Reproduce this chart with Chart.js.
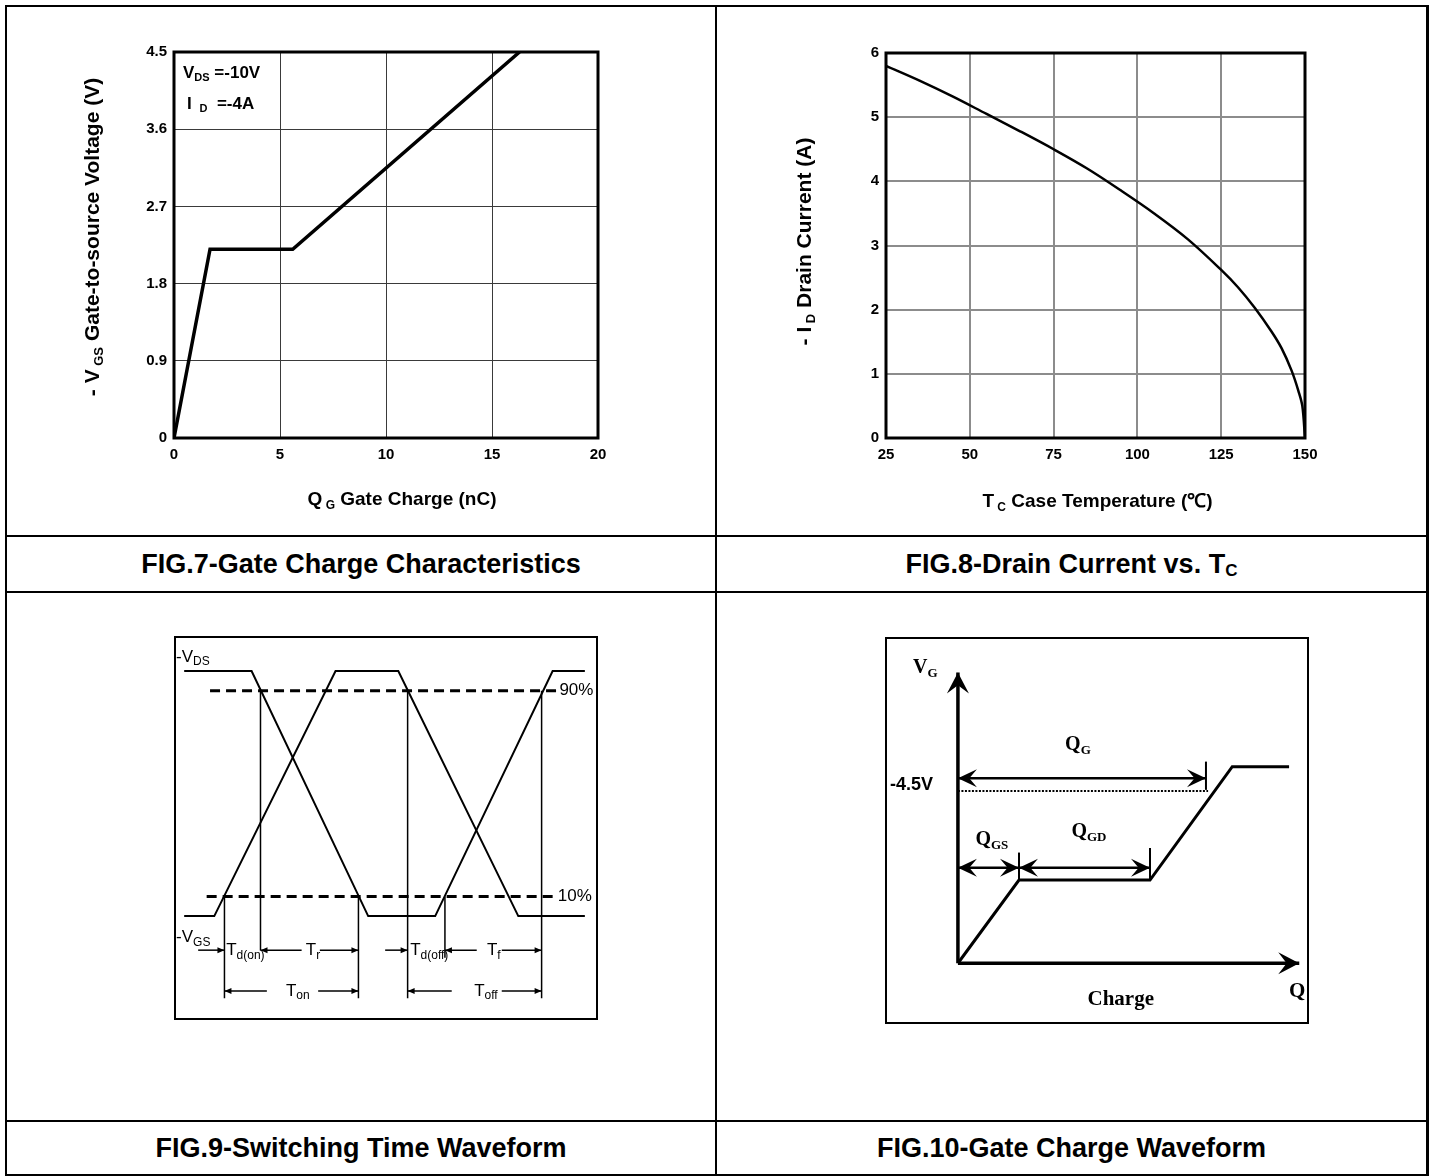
<!DOCTYPE html>
<html>
<head>
<meta charset="utf-8">
<script src="https://cdn.jsdelivr.net/npm/chart.js@4.4.1/dist/chart.umd.min.js"></script>
<style>
  body { margin: 0; width: 1434px; height: 1176px; background: #fff; position: relative; overflow: hidden;
         font-family: "Liberation Sans", Arial, sans-serif; }
  .ln { position: absolute; background: #000; }
  .cap { position: absolute; display: flex; align-items: center; justify-content: center;
         font-weight: bold; font-size: 27px; color: #000; }
  .cap span.sb { font-size: 17px; position: relative; top: 7px; }
  canvas { position: absolute; }
</style>
</head>
<body>
<div class="ln" style="left:5px;top:5px;width:1424px;height:2px"></div>
<div class="ln" style="left:5px;top:5px;width:2px;height:1171px"></div>
<div class="ln" style="left:1426px;top:5px;width:3px;height:1171px"></div>
<div class="ln" style="left:5px;top:1174px;width:1424px;height:2px"></div>
<div class="ln" style="left:715px;top:5px;width:2px;height:1171px"></div>
<div class="ln" style="left:5px;top:535px;width:1424px;height:2px"></div>
<div class="ln" style="left:5px;top:591px;width:1424px;height:2px"></div>
<div class="ln" style="left:5px;top:1120px;width:1424px;height:2px"></div>

<div class="cap" style="left:7px;top:537px;width:708px;height:54px">FIG.7-Gate Charge Characteristics</div>
<div class="cap" style="left:717px;top:537px;width:709px;height:54px">FIG.8-Drain Current vs. T<span class="sb">C</span></div>
<div class="cap" style="left:7px;top:1122px;width:708px;height:52px">FIG.9-Switching Time Waveform</div>
<div class="cap" style="left:717px;top:1122px;width:709px;height:52px">FIG.10-Gate Charge Waveform</div>

<canvas id="c7" width="580" height="510" style="left:60px;top:20px"></canvas>
<canvas id="c8" width="580" height="510" style="left:770px;top:20px"></canvas>
<canvas id="c9" width="424" height="384" style="left:174px;top:636px"></canvas>
<canvas id="c10" width="424" height="387" style="left:885px;top:637px"></canvas>

<script>
// FIG.7 gate charge
const qgCharge = [0, 1.7, 5.6, 16.3];
const qgVoltage = [0, 2.2, 2.2, 4.5];
const qgTicksX = [0, 5, 10, 15, 20];
const qgTicksY = [0, 0.9, 1.8, 2.7, 3.6, 4.5];

// FIG.8 drain current vs case temperature
const tcTemp = [25, 35, 45, 55, 65, 75, 85, 95, 105, 115, 125, 130, 135, 140, 143, 146, 148, 149.2, 150];
const tcCurrent = [5.8, 5.57, 5.32, 5.05, 4.78, 4.5, 4.2, 3.86, 3.5, 3.1, 2.62, 2.35, 2.03, 1.66, 1.4, 1.05, 0.74, 0.5, 0];
const tcTicksX = [25, 50, 75, 100, 125, 150];
const tcTicksY = [0, 1, 2, 3, 4, 5, 6];

// FIG.9 switching waveform (time in % of frame, level in % of swing)
const swVdsT = [2.4, 18.3, 45.8, 61.6, 89.3, 96.9];
const swVdsLevel = [100, 100, 0, 0, 100, 100];
const swVgsT = [2.4, 9.5, 38.1, 52.9, 81.2, 96.9];
const swVgsLevel = [0, 0, 100, 100, 0, 0];
const swRefLevel = [92, 8];
const swRefStart = [8.5, 7.7];
const swRefEnd = [90.5, 90.3];
const swMarkT = [11.9, 20.4, 43.5, 55.1, 63.9, 86.7];
const swMarkTop = [8, 92, 8, 92, 8, 92];
const swMarkBottom = [-33.5, -14, -33.5, -33.5, -17, -33.5];
const swDimFrom = [5.7, 30.1, 34.4, 49.8, 71.4, 77.3, 21.9, 34, 65.5, 77.3];
const swDimTo = [11.9, 20.4, 43.5, 55.1, 63.9, 86.7, 11.9, 43.5, 55.1, 86.7];
const swDimLevel = [-13.9, -13.9, -13.9, -13.9, -13.9, -13.9, -30.6, -30.6, -30.6, -30.6];
const swLabelText = [[['-V'], ['DS', 1]], [['-V'], ['GS', 1]], [['90%']], [['10%']],
  [['T'], ['d(on)', 1]], [['T'], ['r', 1]], [['T'], ['d(off)', 1]], [['T'], ['f', 1]],
  [['T'], ['on', 1]], [['T'], ['off', 1]]];
const swLabelT = [0.5, 0.5, 90.9, 90.5, 12.3, 31.1, 55.7, 73.8, 26.4, 70.8];
const swLabelLevel = [105.7, -8.6, 92, 8, -13.9, -13.9, -13.9, -13.9, -30.6, -30.6];

// FIG.10 gate charge waveform
const gcQ = [0, 14.4, 45.3, 64.7, 78.1];
const gcV = [0, 21.5, 21.5, 50.8, 50.8];
const gcAxisTipQ = 80.5;
const gcAxisTipV = 75.1;
const gcRefLevel = 44.5;
const gcRefEnd = 59;
const gcDimFrom = [0, 0, 14.4];
const gcDimTo = [58.5, 14.4, 45.3];
const gcDimLevel = [47.8, 24.7, 24.7];
const gcTickQ = [58.5, 14.4, 45.3];
const gcTickLow = [44.8, 21.5, 21.5];
const gcTickHigh = [52.1, 28.6, 29.8];
const gcLabelText = [[['V'], ['G', 1]], [['-4.5V']], [['Q'], ['G', 1]], [['Q'], ['GS', 1]],
  [['Q'], ['GD', 1]], [['Charge']], [['Q']]];
const gcLabelQ = [-10.6, -16, 28.3, 8.0, 30.9, 38.4, 80];
const gcLabelV = [76.3, 46.1, 56.4, 32, 34, -9.5, -7.3];

const FONT = '"Liberation Sans", Arial, sans-serif';
const SERIF = '"Liberation Serif", "Times New Roman", serif';

// draws text made of normal / subscript parts
function richText(ctx, parts, x, y, o) {
  const size = o.size, subSize = o.sub || Math.round(size * 0.65);
  const weight = o.weight || 'normal', family = o.family || FONT;
  const fontOf = p => weight + ' ' + (p[1] ? subSize : size) + 'px ' + family;
  const widths = parts.map(p => { ctx.font = fontOf(p); return ctx.measureText(p[0]).width; });
  const total = widths.reduce((a, b) => a + b, 0);
  let cx = o.align === 'left' ? x : x - total / 2;
  ctx.save();
  ctx.fillStyle = '#000';
  ctx.textAlign = 'left';
  ctx.textBaseline = 'middle';
  parts.forEach((p, i) => {
    ctx.font = fontOf(p);
    ctx.fillText(p[0], cx, p[1] ? y + size * (o.drop || 0.3) : y);
    cx += widths[i];
  });
  ctx.restore();
}

function drawHead(ctx, from, to, h) {
  const ang = Math.atan2(to.y - from.y, to.x - from.x);
  ctx.save();
  ctx.translate(to.x, to.y);
  ctx.rotate(ang);
  ctx.beginPath();
  ctx.moveTo(0, 0);
  ctx.lineTo(-h.len, -h.w / 2);
  ctx.lineTo(-h.len * (h.notch || 1), 0);
  ctx.lineTo(-h.len, h.w / 2);
  ctx.closePath();
  ctx.fillStyle = '#000';
  ctx.fill();
  ctx.restore();
}

const arrowPlugin = {
  id: 'arrows',
  afterDatasetsDraw(chart) {
    chart.data.datasets.forEach((ds, i) => {
      if (!ds.head) return;
      const pts = chart.getDatasetMeta(i).data, n = pts.length;
      if (ds.head.end) drawHead(chart.ctx, pts[n - 2], pts[n - 1], ds.head);
      if (ds.head.start) drawHead(chart.ctx, pts[1], pts[0], ds.head);
    });
  }
};

const framePlugin = {
  id: 'frame',
  afterDatasetsDraw(chart, args, opts) {
    const a = chart.chartArea, ctx = chart.ctx, w = opts.width || 2;
    ctx.save();
    ctx.strokeStyle = '#000';
    ctx.lineWidth = w;
    ctx.strokeRect(a.left + (opts.inset ? w / 2 : 0), a.top + (opts.inset ? w / 2 : 0),
      a.right - a.left - (opts.inset ? w : 0), a.bottom - a.top - (opts.inset ? w : 0));
    ctx.restore();
  }
};

// axis titles + notes relative to the plot area
const textPlugin = {
  id: 'texts',
  afterDraw(chart, args, opts) {
    const a = chart.chartArea, ctx = chart.ctx;
    const mx = (a.left + a.right) / 2, my = (a.top + a.bottom) / 2;
    if (opts.xTitle) richText(ctx, opts.xTitle, mx + opts.xdx, a.bottom + opts.xdy, { size: 19, sub: 12, weight: 'bold' });
    if (opts.yTitle) {
      ctx.save();
      ctx.translate(a.left + opts.ydx, my + opts.ydy);
      ctx.rotate(-Math.PI / 2);
      richText(ctx, opts.yTitle, 0, 0, { size: 21, sub: 13, weight: 'bold' });
      ctx.restore();
    }
    (opts.notes || []).forEach(n => richText(ctx, n.parts, a.left + n.dx, a.top + n.dy, { size: 17, sub: 11, weight: 'bold', align: 'left' }));
  }
};

// labels placed in data coordinates
const labelPlugin = {
  id: 'labels',
  afterDatasetsDraw(chart, args, opts) {
    const sx = chart.scales.x, sy = chart.scales.y;
    opts.items.forEach(it => richText(chart.ctx, it.parts, sx.getPixelForValue(it.x), sy.getPixelForValue(it.y), it.style));
  }
};

const seg = (xs, ys, extra) => Object.assign({
  data: xs.map((x, i) => ({ x: x, y: ys[i] })),
  borderColor: '#000', borderWidth: 2, pointRadius: 0, showLine: true, fill: false, tension: 0
}, extra);

function pinArea(chart, cv, area) {
  const pad = chart.config.options.layout.padding;
  const a = chart.chartArea;
  pad.left += area.left - cv.left - a.left;
  pad.top += area.top - cv.top - a.top;
  pad.right += a.right - (area.right - cv.left);
  pad.bottom += a.bottom - (area.bottom - cv.top);
  chart.update();
}

const tickFont = { family: FONT, size: 15, weight: 'bold' };

function xyScales(xMin, xMax, xTicks, yMin, yMax, yTicks, gridColor, gridWidth) {
  const common = (min, max, list) => ({
    type: 'linear', min: min, max: max,
    afterBuildTicks: s => { s.ticks = list.map(v => ({ value: v })); },
    grid: { color: gridColor, lineWidth: gridWidth, drawTicks: false },
    border: { display: false },
    ticks: { color: '#000', font: tickFont, callback: v => String(v) }
  });
  const x = common(xMin, xMax, xTicks);
  x.ticks.padding = 8;
  x.ticks.maxRotation = 0;
  const y = common(yMin, yMax, yTicks);
  y.ticks.padding = 7;
  return { x: x, y: y };
}

// ---------- FIG.7
const ch7 = new Chart(document.getElementById('c7'), {
  type: 'scatter',
  data: { datasets: [seg(qgCharge, qgVoltage, { borderWidth: 3.5 })] },
  options: {
    responsive: false, animation: false,
    layout: { padding: { left: 20, top: 32, right: 42, bottom: 40 } },
    scales: xyScales(0, 20, qgTicksX, 0, 4.5, qgTicksY, '#3a3a3a', 1),
    plugins: {
      legend: { display: false }, tooltip: { enabled: false },
      frame: { width: 3 },
      texts: {
        xTitle: [['Q'], [' G', 1], [' Gate Charge (nC)']], xdx: 16, xdy: 62,
        yTitle: [['- V'], [' GS', 1], [' Gate-to-source Voltage (V)']], ydx: -81, ydy: -8,
        notes: [
          { parts: [['V'], ['DS', 1], [' =-10V']], dx: 9, dy: 21 },
          { parts: [['I '], [' D', 1], ['  =-4A']], dx: 13, dy: 52 }
        ]
      }
    }
  },
  plugins: [framePlugin, textPlugin]
});
pinArea(ch7, { left: 60, top: 20 }, { left: 174, top: 52, right: 598, bottom: 438 });

// ---------- FIG.8
const ch8 = new Chart(document.getElementById('c8'), {
  type: 'scatter',
  data: { datasets: [seg(tcTemp, tcCurrent, { borderWidth: 2.5, tension: 0.35 })] },
  options: {
    responsive: false, animation: false,
    layout: { padding: { left: 20, top: 32, right: 42, bottom: 40 } },
    scales: xyScales(25, 150, tcTicksX, 0, 6, tcTicksY, '#8c8c8c', 2),
    plugins: {
      legend: { display: false }, tooltip: { enabled: false },
      frame: { width: 3 },
      texts: {
        xTitle: [['T'], [' C', 1], [' Case Temperature (℃)']], xdx: 2, xdy: 64,
        yTitle: [['- I'], [' D', 1], [' Drain Current (A)']], ydx: -81, ydy: -4
      }
    }
  },
  plugins: [framePlugin, textPlugin]
});
pinArea(ch8, { left: 770, top: 20 }, { left: 886, top: 53, right: 1305, bottom: 438 });

// ---------- FIG.9
const swStyle = { size: 17, sub: 12, family: FONT, align: 'left', drop: 0.3 };
const swDatasets = [
  seg(swVdsT, swVdsLevel),
  seg(swVgsT, swVgsLevel)
].concat(
  swRefLevel.map((lv, i) => seg([swRefStart[i], swRefEnd[i]], [lv, lv], { borderWidth: 3, borderDash: [10, 6] })),
  swMarkT.map((t, i) => seg([t, t], [swMarkTop[i], swMarkBottom[i]], { borderWidth: 1.5 })),
  swDimFrom.map((f, i) => seg([f, swDimTo[i]], [swDimLevel[i], swDimLevel[i]], { borderWidth: 1.5, head: { end: true, len: 7, w: 6 } }))
);
new Chart(document.getElementById('c9'), {
  type: 'scatter',
  data: { datasets: swDatasets },
  options: {
    responsive: false, animation: false,
    layout: { padding: 0 },
    scales: { x: { display: false, min: 0, max: 100 }, y: { display: false, min: -42.4, max: 114.3 } },
    plugins: {
      legend: { display: false }, tooltip: { enabled: false },
      frame: { width: 2, inset: true },
      labels: { items: swLabelText.map((p, i) => ({ parts: p, x: swLabelT[i], y: swLabelLevel[i], style: swStyle })) }
    }
  },
  plugins: [arrowPlugin, framePlugin, labelPlugin]
});

// ---------- FIG.10
const bigHead = { len: 21, w: 22, notch: 0.6 };
const dimHead = { len: 19, w: 18, notch: 0.6, start: true, end: true };
const gcDatasets = [
  seg(gcQ, gcV, { borderWidth: 3 }),
  seg([0, 0], [0, gcAxisTipV], { borderWidth: 3.5, head: Object.assign({ end: true }, bigHead) }),
  seg([0, gcAxisTipQ], [0, 0], { borderWidth: 3.5, head: Object.assign({ end: true }, bigHead) }),
  seg([0, gcRefEnd], [gcRefLevel, gcRefLevel], { borderWidth: 2, borderDash: [2, 1.5] })
].concat(
  gcDimFrom.map((f, i) => seg([f, gcDimTo[i]], [gcDimLevel[i], gcDimLevel[i]], { borderWidth: 2.5, head: dimHead })),
  gcTickQ.map((q, i) => seg([q, q], [gcTickLow[i], gcTickHigh[i]], { borderWidth: 2 }))
);
const gcSerif = { size: 20, sub: 13, weight: 'bold', family: SERIF, drop: 0.3 };
const gcStyles = [
  Object.assign({}, gcSerif, { align: 'left' }),
  { size: 18, weight: 'bold', family: FONT, align: 'left' },
  gcSerif, gcSerif, gcSerif,
  { size: 21, weight: 'bold', family: SERIF },
  { size: 21, weight: 'bold', family: SERIF }
];
new Chart(document.getElementById('c10'), {
  type: 'scatter',
  data: { datasets: gcDatasets },
  options: {
    responsive: false, animation: false,
    layout: { padding: 0 },
    scales: { x: { display: false, min: -17.2, max: 82.8 }, y: { display: false, min: -15.7, max: 84.3 } },
    plugins: {
      legend: { display: false }, tooltip: { enabled: false },
      frame: { width: 2, inset: true },
      labels: { items: gcLabelText.map((p, i) => ({ parts: p, x: gcLabelQ[i], y: gcLabelV[i], style: gcStyles[i] })) }
    }
  },
  plugins: [arrowPlugin, framePlugin, labelPlugin]
});
</script>
</body>
</html>
